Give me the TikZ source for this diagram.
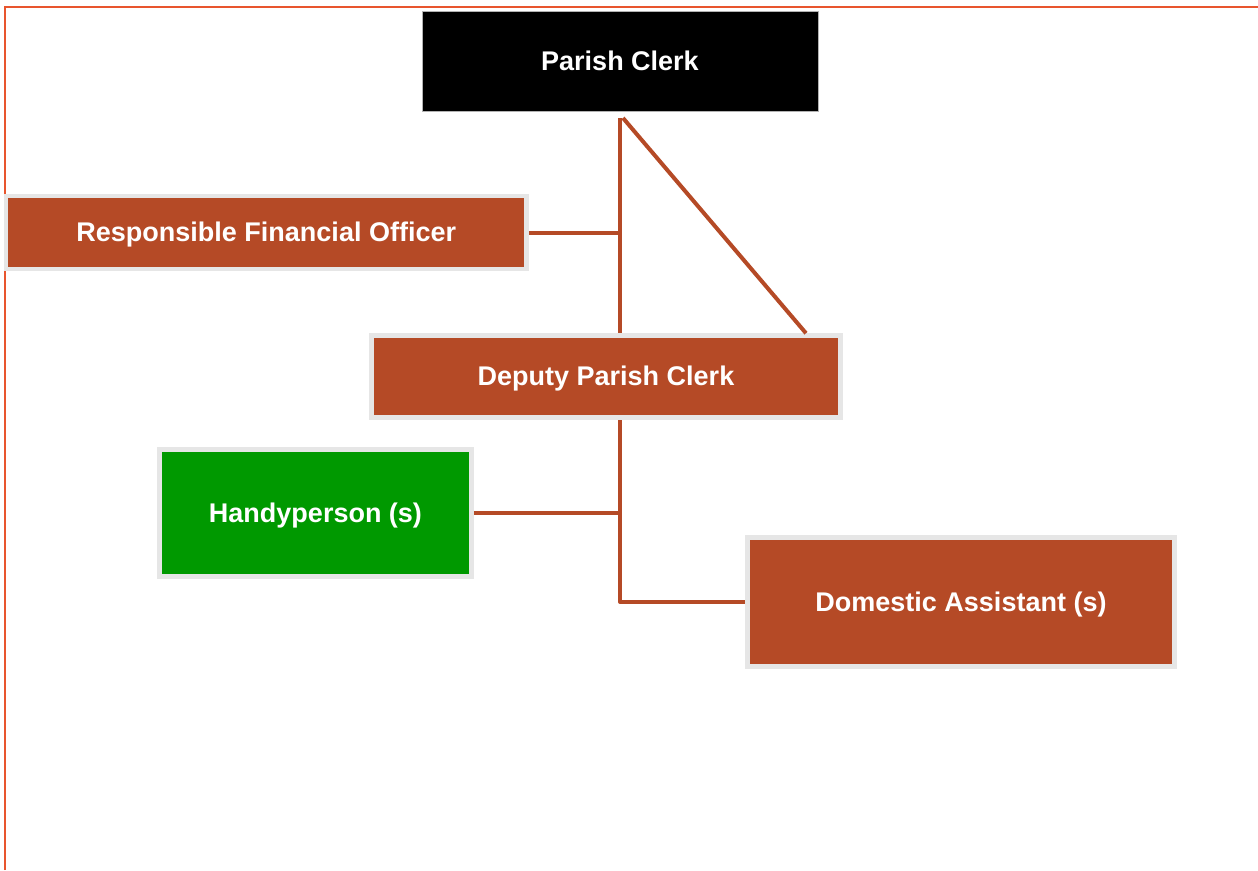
\documentclass[tikz,border=0pt]{standalone}
\usepackage{fontspec}
\setmainfont{Liberation Sans}
\definecolor{frameC}{HTML}{E8552E}
\definecolor{rust}{HTML}{B54A26}
\definecolor{edgeG}{HTML}{E6E6E6}
\definecolor{greenC}{HTML}{009900}
\newcommand{\lowtxt}[1]{\raisebox{-2.5pt}[\height][\depth]{#1}}
\begin{document}
\begin{tikzpicture}[x=1pt,y=-1pt,
  box/.style={draw=edgeG, line width=4.5pt, inner sep=0pt, text=white,
    font=\fontsize{27}{30}\selectfont\bfseries},
  link/.style={draw=rust, line width=4pt}]
\useasboundingbox (0,0) rectangle (1258,870);
\draw[frameC, line width=2pt] (4.5,870) -- (4.5,6.5) -- (1258,6.5);
\node[box, fill=black, draw=gray!60, line width=0.6pt, minimum width=396pt, minimum height=100pt] (pc) at (620,61) {Parish Clerk};
\node[box, fill=rust, minimum width=520.5pt, minimum height=73pt] (rfo) at (266.25,232.5) {\lowtxt{Responsible Financial Officer}};
\node[box, fill=rust, minimum width=469pt, minimum height=82pt] (dpc) at (606,376.5) {\lowtxt{Deputy Parish Clerk}};
\node[box, fill=greenC, minimum width=312pt, minimum height=127pt] (hp) at (315.5,513) {\lowtxt{Handyperson (s)}};
\node[box, fill=rust, minimum width=427pt, minimum height=129pt] (da) at (961,602) {\lowtxt{Domestic Assistant (s)}};
\coordinate (t) at (620,118);
\coordinate (t2) at (623,118);
\coordinate (d) at (806,333.25);
\coordinate (rj) at (620,232.5);
\coordinate (b) at (620,420);
\coordinate (hj) at (620,513);
\coordinate (dj) at (620,602);
\draw[link] (t) -- (t |- dpc.north);
\draw[link] (rfo.east) -- (rj);
\draw[link] (t2) -- (d);
\draw[link, line join=round] (b) -- (dj) -- (da.west);
\draw[link] (hp.east) -- (hj);
\end{tikzpicture}
\end{document}
